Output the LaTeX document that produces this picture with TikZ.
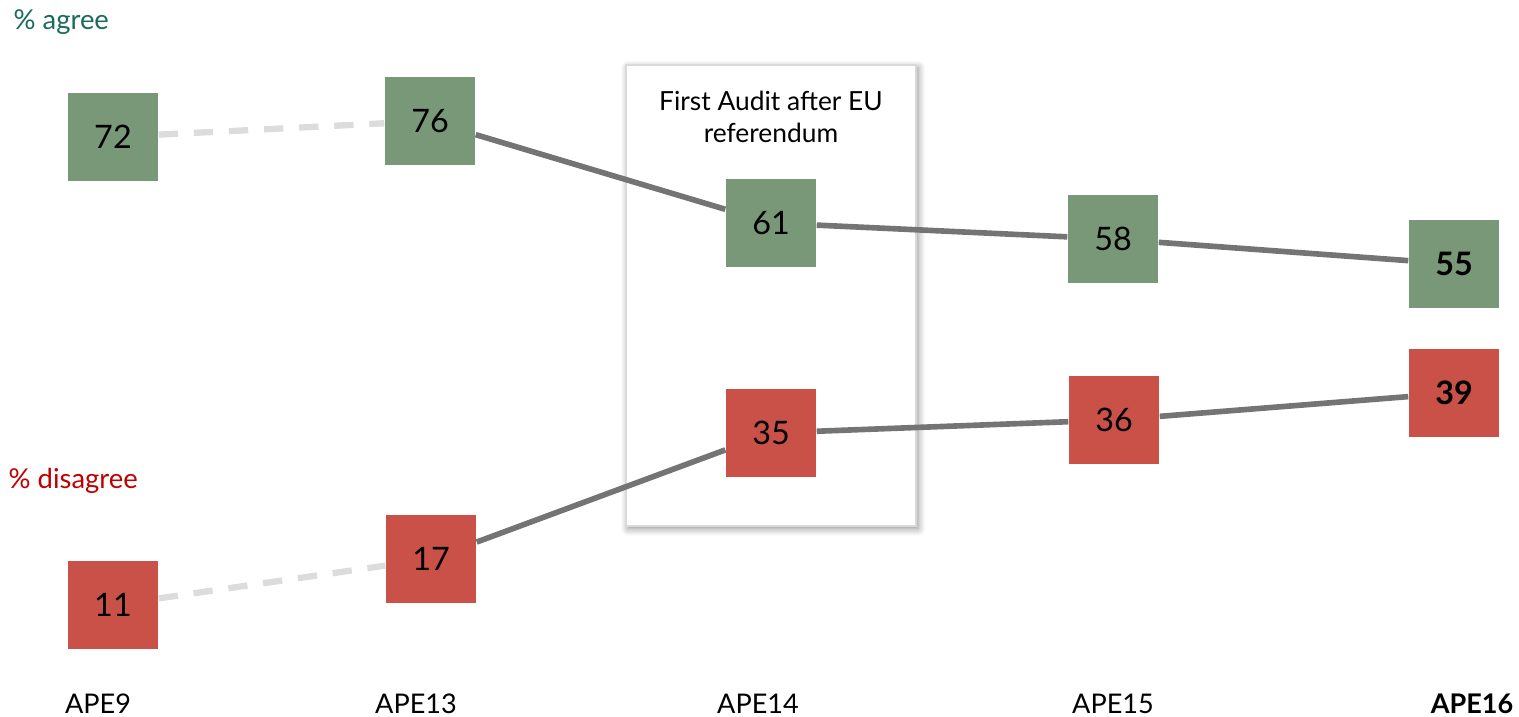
\documentclass[tikz,border=0pt]{standalone}
\usepackage{fontspec}
\setmainfont{Lato}
\usepackage{xcolor}
\usepackage{tikz}
\usetikzlibrary{positioning, shadows.blur}

\definecolor{agreegreen}{HTML}{799878}
\definecolor{disred}{HTML}{C95147}
\definecolor{linegray}{HTML}{747474}
\definecolor{dashgray}{HTML}{DCDCDC}
\definecolor{agreetext}{HTML}{1B6B5C}
\definecolor{distext}{HTML}{C00000}

\begin{document}
\begin{tikzpicture}[
    agree/.style={rectangle, fill=agreegreen, minimum width=0.9cm, minimum height=0.88cm, inner sep=0pt, font=\fontsize{9.2}{11}\selectfont},
    disagree/.style={agree, fill=disred},
    trend/.style={draw=linegray, line width=1.6pt},
    older/.style={draw=dashgray, line width=1.8pt, dash pattern=on 5.5pt off 4.5pt},
    wave/.style={font=\fontsize{7.7}{9}\selectfont},
    legend/.style={anchor=west, inner sep=0pt, font=\fontsize{7.8}{9}\selectfont}
]
\useasboundingbox (0,0) rectangle (15.19,7.17);

% Audit highlight box
\node[rectangle, draw=gray!30, fill=white, minimum width=2.9cm, minimum height=4.61cm,
      blur shadow={shadow xshift=0.6pt, shadow yshift=-0.8pt, shadow blur steps=6, shadow opacity=45}] (audit) at (7.71,4.215) {};
\node[align=center, font=\fontsize{7.5}{9.1}\selectfont] (audittext) at (7.71,6.0) {First Audit after EU\\referendum};

% Agree values
\node[agree] (a9) at (1.13,5.80) {72};
\node[agree] (a13) at (4.30,5.96) {76};
\node[agree] (a14) at (7.71,4.94) {61};
\node[agree] (a15) at (11.13,4.78) {58};
\node[agree] (a16) at (14.54,4.53) {\bfseries 55};

% Disagree values
\node[disagree] (d9) at (1.13,1.12) {11};
\node[disagree] (d13) at (4.31,1.58) {17};
\node[disagree] (d14) at (7.71,2.84) {35};
\node[disagree] (d15) at (11.14,2.97) {36};
\node[disagree] (d16) at (14.54,3.24) {\bfseries 39};

% Connecting lines
\draw[older] (a9) -- (a13);
\draw[older] (d9) -- (d13);
\draw[trend] (a13) -- (a14);
\draw[trend] (a14) -- (a15);
\draw[trend] (a15) -- (a16);
\draw[trend] (d13) -- (d14);
\draw[trend] (d14) -- (d15);
\draw[trend] (d15) -- (d16);

% Legend labels
\node[legend, text=agreetext] (agreelbl) at (0.13,6.95) {\% agree};
\node[legend, text=distext] (dislbl) at (0.08,2.36) {\% disagree};

% Wave labels
\node[wave] (w9) at (0.98,0.13) {APE9};
\node[wave] (w13) at (4.16,0.13) {APE13};
\node[wave] (w14) at (7.58,0.13) {APE14};
\node[wave] (w15) at (11.13,0.13) {APE15};
\node[wave] (w16) at (14.72,0.13) {\bfseries APE16};

\end{tikzpicture}
\end{document}
